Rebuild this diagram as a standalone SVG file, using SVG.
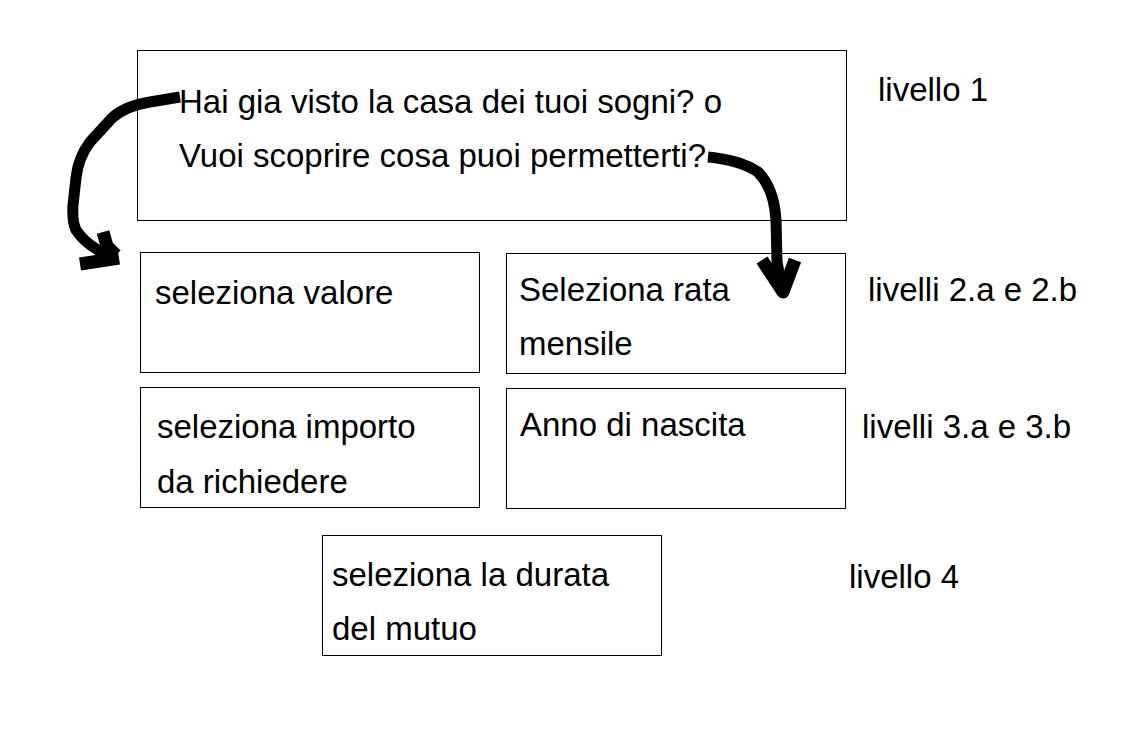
<svg xmlns="http://www.w3.org/2000/svg" width="1148" height="739" viewBox="0 0 1148 739">
<style>
.box{fill:#fff;stroke:#000;stroke-width:1}
.t{font-family:"Liberation Sans",Arial,sans-serif;font-size:33px;fill:#000}
.arr{fill:none;stroke:#000;stroke-width:11;stroke-linecap:butt;stroke-linejoin:round}
.head{fill:none;stroke:#000;stroke-width:13;stroke-linecap:butt;stroke-linejoin:round}
</style>
<rect width="1148" height="739" fill="#fff"/>
<g id="n1">
<rect class="box" x="137.5" y="50.5" width="709" height="170"/>
<text class="t" x="179" y="113">Hai gia visto la casa dei tuoi sogni? o</text>
<text class="t" x="179" y="167">Vuoi scoprire cosa puoi permetterti?</text>
</g>
<g id="n2a">
<rect class="box" x="140.5" y="252.5" width="339" height="120"/>
<text class="t" x="155" y="304">seleziona valore</text>
</g>
<g id="n2b">
<rect class="box" x="506.5" y="253.5" width="339" height="120"/>
<text class="t" x="519" y="301">Seleziona rata</text>
<text class="t" x="519" y="355">mensile</text>
</g>
<g id="n3a">
<rect class="box" x="140.5" y="387.5" width="339" height="120"/>
<text class="t" x="157" y="438">seleziona importo</text>
<text class="t" x="157" y="493">da richiedere</text>
</g>
<g id="n3b">
<rect class="box" x="506.5" y="388.5" width="339" height="120"/>
<text class="t" x="520" y="436">Anno di nascita</text>
</g>
<g id="n4">
<rect class="box" x="322.5" y="535.5" width="339" height="120"/>
<text class="t" x="332" y="586">seleziona la durata</text>
<text class="t" x="332" y="640">del mutuo</text>
</g>
<g id="labels">
<text class="t" x="878" y="101">livello 1</text>
<text class="t" x="868" y="301">livelli 2.a e 2.b</text>
<text class="t" x="862" y="438">livelli 3.a e 3.b</text>
<text class="t" x="849" y="588">livello 4</text>
</g>
<g id="connectors">
<path class="arr" d="M180,97 L150,102 Q125,106 112,118 L90,142 Q78,158 76,178 L73,205 Q72,222 76,230 Q84,242 98,250 L114,258"/>
<path class="head" d="M103,232 L107,246 L116,255 M80,264 L119,258"/>
<path class="arr" d="M708,157 Q740,160 758,172 Q774,188 776,220 L777,262 L783,292"/>
<path class="head" d="M762,260 L783,292 L795,260"/>
</g>
</svg>
